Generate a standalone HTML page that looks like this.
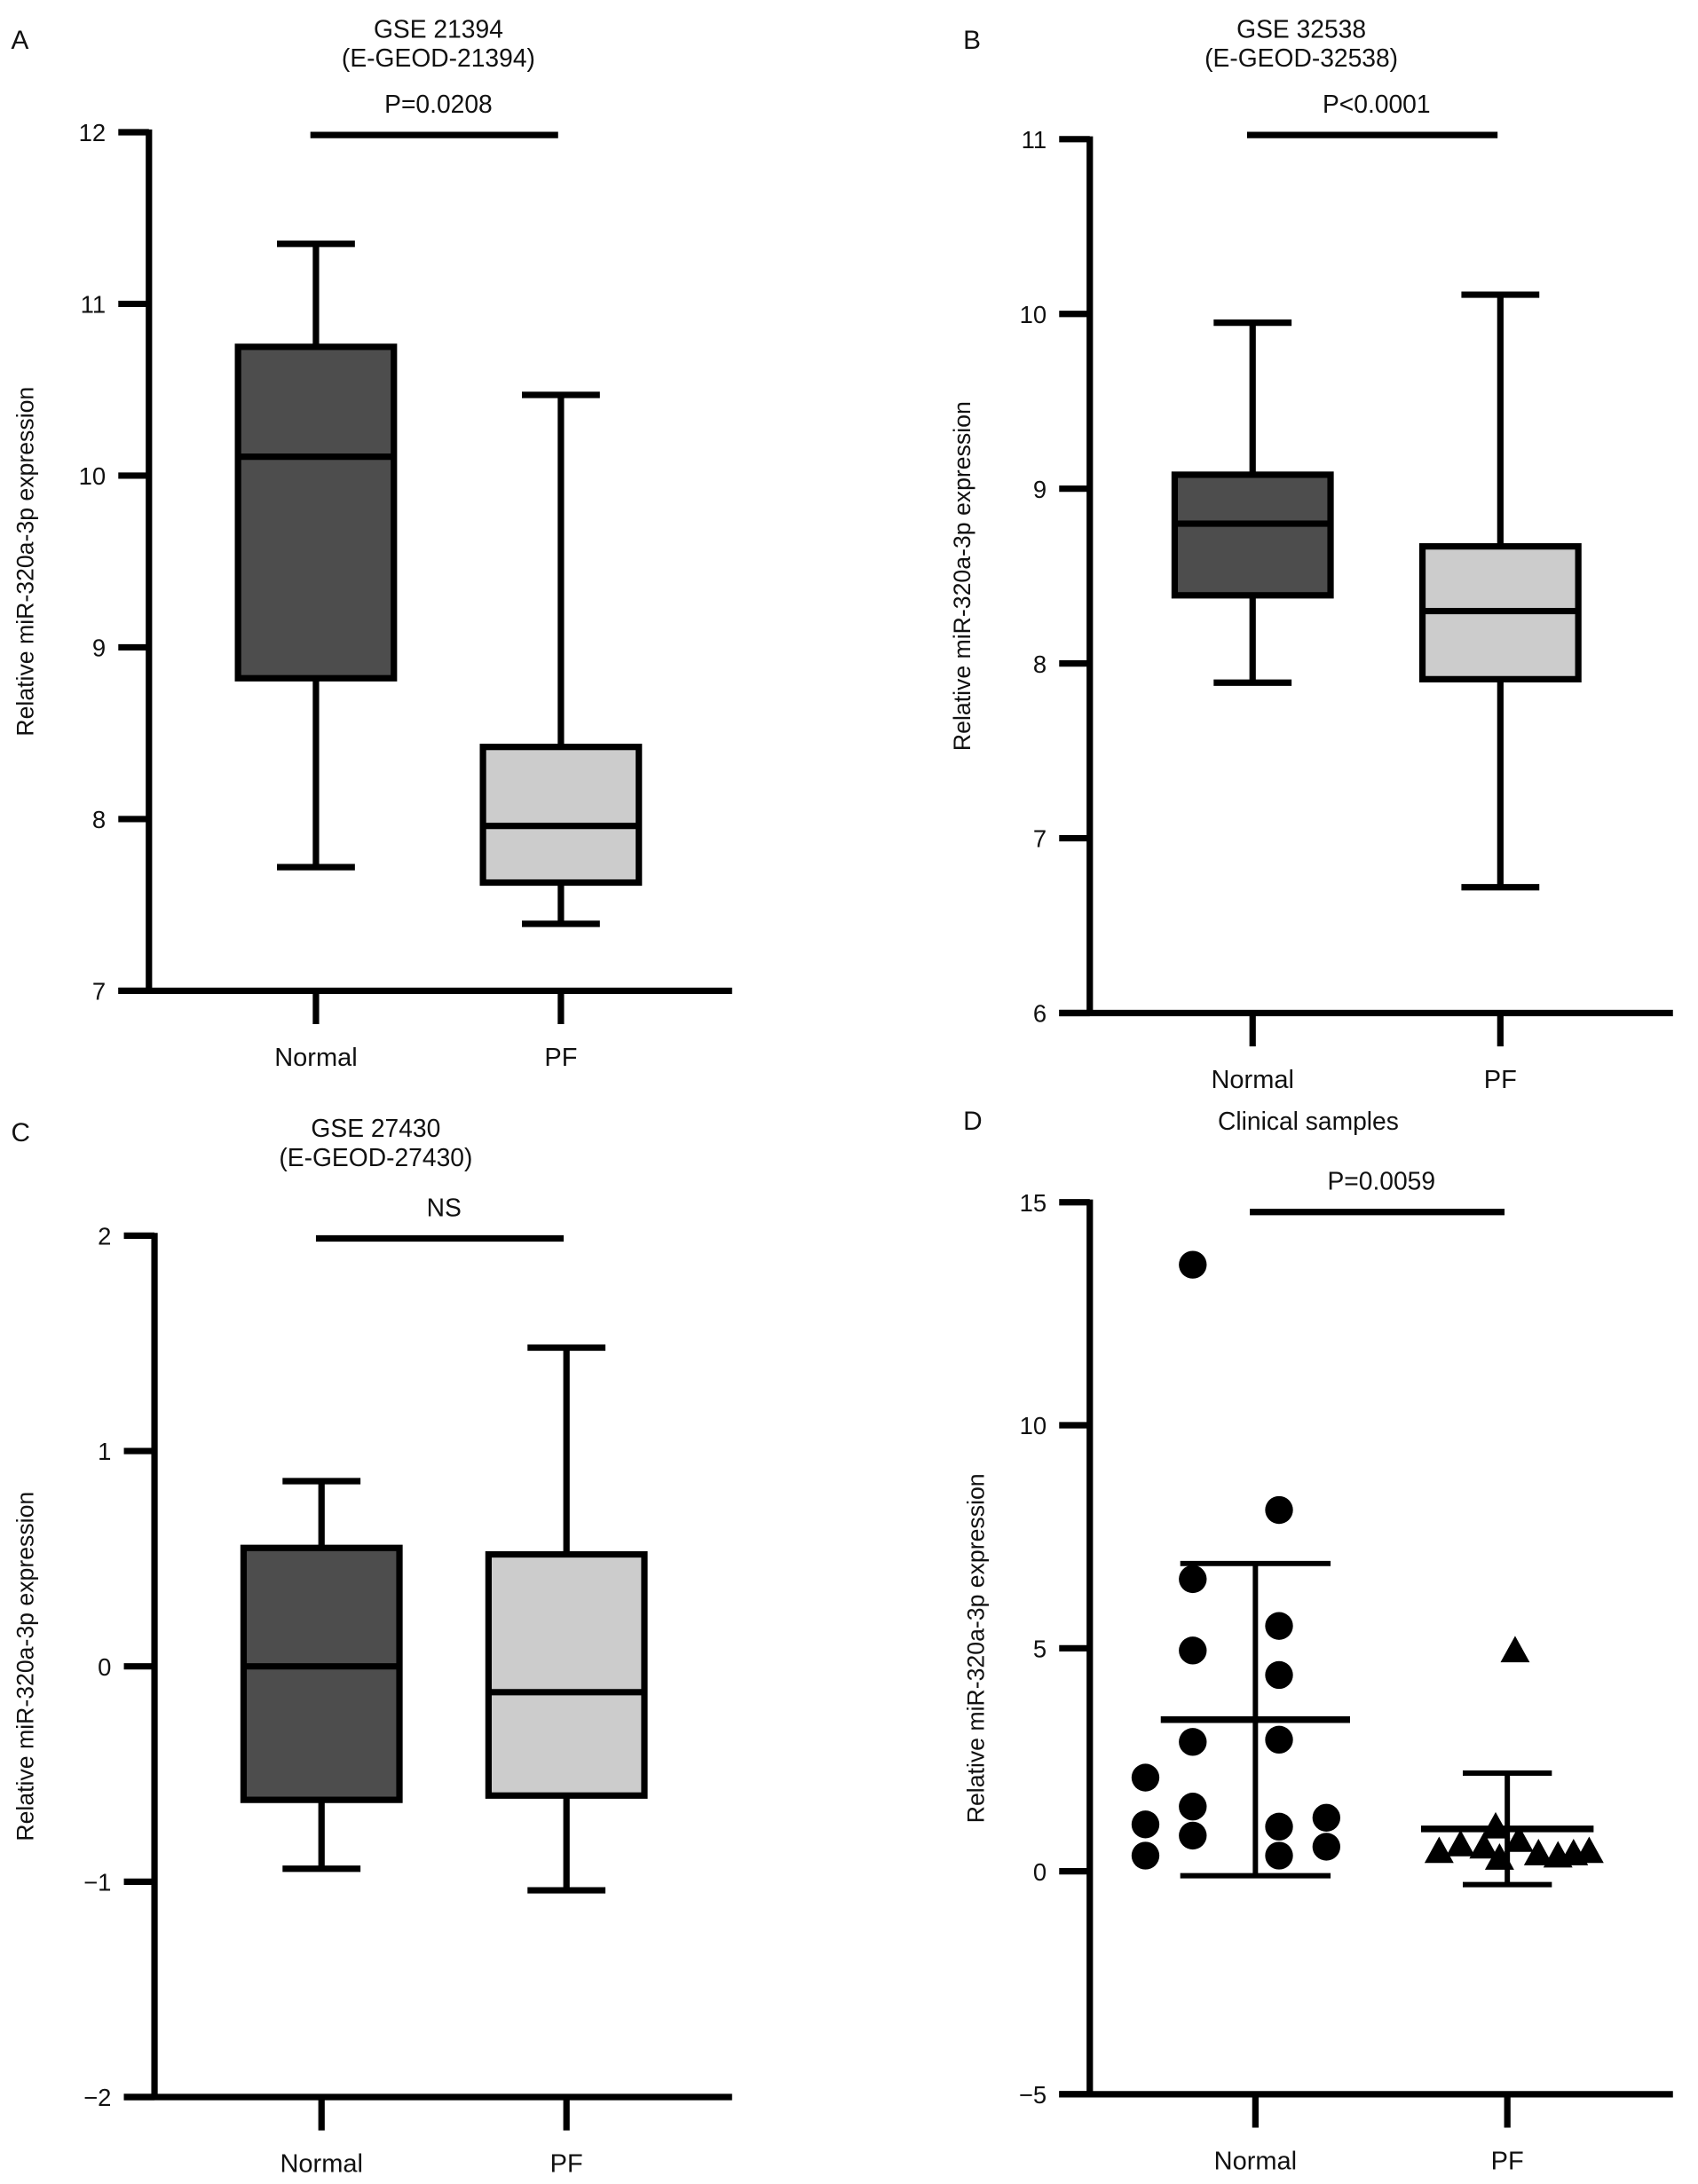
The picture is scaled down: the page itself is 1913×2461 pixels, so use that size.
<!DOCTYPE html>
<html><head><meta charset="utf-8"><style>
html,body{margin:0;padding:0;background:#fff;}
svg{display:block;font-family:"Liberation Sans",Arial,sans-serif;}
</style></head><body>
<svg id="fig" width="1913" height="2461" viewBox="0 0 1220 1569.5" xmlns="http://www.w3.org/2000/svg"></svg>
<script>
// ---- Panel data ----
const categories = ["Normal", "PF"];
const ticksA = [7, 8, 9, 10, 11, 12];
const boxNormalA = [7.72, 8.82, 10.11, 10.75, 11.35]; // min,q1,med,q3,max
const boxPfA = [7.39, 7.63, 7.96, 8.42, 10.47];
const ticksB = [6, 7, 8, 9, 10, 11];
const boxNormalB = [7.89, 8.39, 8.80, 9.08, 9.95];
const boxPfB = [6.72, 7.91, 8.30, 8.67, 10.11];
const ticksC = [-2, -1, 0, 1, 2];
const tickLabelsC = ["\u22122", "\u22121", "0", "1", "2"];
const boxNormalC = [-0.94, -0.62, 0.0, 0.55, 0.86];
const boxPfC = [-1.04, -0.60, -0.12, 0.52, 1.48];
const ticksD = [-5, 0, 5, 10, 15];
const tickLabelsD = ["\u22125", "0", "5", "10", "15"];
const normalD = [13.6, 8.1, 6.55, 5.5, 4.95, 4.4, 2.9, 2.95, 2.1, 1.05, 1.45, 0.8, 1.0, 1.2, 0.35, 0.35, 0.55];
const normalDcol = [-1, 1, -1, 1, -1, 1, -1, 1, -2, -2, -1, -1, 1, 2, -2, 1, 2];
const pfD = [4.95, 0.45, 0.6, 0.55, 1.0, 0.3, 0.7, 0.4, 0.35, 0.4, 0.45];
const pfDcol = [0.2, -1.75, -1.2, -0.6, -0.3, -0.2, 0.3, 0.8, 1.3, 1.7, 2.1];
const statsNormalD = [3.4, 6.9, -0.1]; // mean, +sd, -sd
const statsPfD = [0.95, 2.2, -0.3];

const NS = "http://www.w3.org/2000/svg";
const svg = document.getElementById("fig");
function el(tag, attrs, parent) {
  const e = document.createElementNS(NS, tag);
  for (const k in attrs) e.setAttribute(k, attrs[k]);
  (parent || svg).appendChild(e);
  return e;
}
function txt(s, x, y, size, anchor, parent) {
  const t = el("text", {x: x, y: y, "font-size": size, "text-anchor": anchor || "middle", fill: "#111"}, parent);
  t.textContent = s;
  return t;
}
const LW = 4.6;

function panel(p) {
  const g = el("g", {});
  
  
  const ys = v => p.yBot + (v - p.min) / (p.max - p.min) * (p.yTop - p.yBot);
  const xs = i => p.cx[i];
  const L = txt(p.letter, p.letterX, p.letterY, 19, "start", g);
  
  
  p.title.forEach((s, i) => {
    const t = txt(s, p.titleX, p.titleY + i * 21, 18, "middle", g);
    
    
  });
  const ax = el("g", {stroke: "#000", "stroke-width": LW, fill: "none"}, g);
  
  
  el("line", {x1: p.ax, y1: p.yTop - 2, x2: p.ax, y2: p.yBot + 2}, ax);
  el("line", {x1: p.ax - 22, y1: p.yBot, x2: p.xEnd, y2: p.yBot}, ax);
  p.ticks.forEach((v, i) => {
    el("line", {x1: p.ax - 22, y1: ys(v), x2: p.ax, y2: ys(v)}, ax);
    const t = txt(p.tickLabels[i], p.ax - 31, ys(v) + 6.5, 17.5, "end", g);
    
    
  });
  categories.forEach((c, i) => {
    el("line", {x1: xs(i), y1: p.yBot, x2: xs(i), y2: p.yBot + 24}, ax);
    const t = txt(c, xs(i), p.yBot + 54, 18.5, "middle", g);
    
    
  });
  const yl = txt("Relative miR-320a-3p expression", 0, 0, 17, "middle", g);
  yl.setAttribute("transform", "translate(" + p.ylX + "," + ((p.yTop + p.yBot) / 2) + ") rotate(-90)");
  
  
  const sb = el("line", {x1: xs(0) - 4, x2: xs(1) - 2, y1: p.sigY, y2: p.sigY, stroke: "#000", "stroke-width": LW}, g);
  
  
  const st = txt(p.sig, (xs(0) + xs(1)) / 2, p.sigY - 16, 18, "middle", g);
  
  
  return {g: g, ys: ys, xs: xs};
}

function box(P, i, d, fill, name) {
  const g = el("g", {stroke: "#000", "stroke-width": LW}, P.g);
  
  
  const x = P.xs(i), hw = 56, cw = 28;
  el("line", {x1: x, x2: x, y1: P.ys(d[0]), y2: P.ys(d[4])}, g);
  el("line", {x1: x - cw, x2: x + cw, y1: P.ys(d[0]), y2: P.ys(d[0])}, g);
  el("line", {x1: x - cw, x2: x + cw, y1: P.ys(d[4]), y2: P.ys(d[4])}, g);
  el("rect", {x: x - hw, y: P.ys(d[3]), width: 2 * hw, height: P.ys(d[1]) - P.ys(d[3]), fill: fill}, g);
  el("line", {x1: x - hw, x2: x + hw, y1: P.ys(d[2]), y2: P.ys(d[2])}, g);
}

const A = panel({name: "panel-a", letter: "A", letterX: 8, letterY: 35, title: ["GSE 21394", "(E-GEOD-21394)"], titleX: 315, titleY: 27,
  ax: 107, yTop: 95, yBot: 712, xEnd: 526, min: 7, max: 12, ticks: ticksA, tickLabels: ticksA.map(String), cx: [227, 403], ylX: 24,
  sigY: 97, sig: "P=0.0208"});
box(A, 0, boxNormalA, "#4d4d4d", "box-normal");
box(A, 1, boxPfA, "#cccccc", "box-pf");

const B = panel({name: "panel-b", letter: "B", letterX: 692, letterY: 35, title: ["GSE 32538", "(E-GEOD-32538)"], titleX: 935, titleY: 27,
  ax: 783, yTop: 100, yBot: 728, xEnd: 1202, min: 6, max: 11, ticks: ticksB, tickLabels: ticksB.map(String), cx: [900, 1078], ylX: 697,
  sigY: 97, sig: "P<0.0001"});
box(B, 0, boxNormalB, "#4d4d4d", "box-normal");
box(B, 1, boxPfB, "#cccccc", "box-pf");

const C = panel({name: "panel-c", letter: "C", letterX: 8, letterY: 820, title: ["GSE 27430", "(E-GEOD-27430)"], titleX: 270, titleY: 817,
  ax: 111, yTop: 888, yBot: 1507, xEnd: 526, min: -2, max: 2, ticks: ticksC, tickLabels: tickLabelsC, cx: [231, 407], ylX: 24,
  sigY: 890, sig: "NS"});
box(C, 0, boxNormalC, "#4d4d4d", "box-normal");
box(C, 1, boxPfC, "#cccccc", "box-pf");

const D = panel({name: "panel-d", letter: "D", letterX: 692, letterY: 812, title: ["Clinical samples"], titleX: 940, titleY: 812,
  ax: 783, yTop: 864, yBot: 1505, xEnd: 1202, min: -5, max: 15, ticks: ticksD, tickLabels: tickLabelsD, cx: [902, 1083], ylX: 707,
  sigY: 871, sig: "P=0.0059"});
normalD.forEach((v, i) => {
  const col = normalDcol[i];
  const c = el("circle", {cx: D.xs(0) + col * 34 + (col < 0 ? -11 : -17), cy: D.ys(v), r: 10, fill: "#000"}, D.g);
  
  
});
pfD.forEach((v, i) => {
  const x = D.xs(1) + pfDcol[i] * 28, y = D.ys(v);
  const t = el("polygon", {points: (x - 10.5) + "," + (y + 8.5) + " " + (x + 10.5) + "," + (y + 8.5) + " " + x + "," + (y - 10.5), fill: "#000"}, D.g);
  
  
});
function meanSd(P, i, s, name, mw, cw) {
  const g = el("g", {stroke: "#000", "stroke-width": 3.8}, P.g);
  
  
  const x = P.xs(i);
  el("line", {x1: x, x2: x, y1: P.ys(s[1]), y2: P.ys(s[2])}, g);
  el("line", {x1: x - cw, x2: x + cw, y1: P.ys(s[1]), y2: P.ys(s[1])}, g);
  el("line", {x1: x - cw, x2: x + cw, y1: P.ys(s[2]), y2: P.ys(s[2])}, g);
  el("line", {x1: x - mw, x2: x + mw, y1: P.ys(s[0]), y2: P.ys(s[0]), "stroke-width": 4.8}, g);
}
meanSd(D, 0, statsNormalD, "mean-sd-normal", 68, 54);
meanSd(D, 1, statsPfD, "mean-sd-pf", 62, 32);
</script>
</body></html>
